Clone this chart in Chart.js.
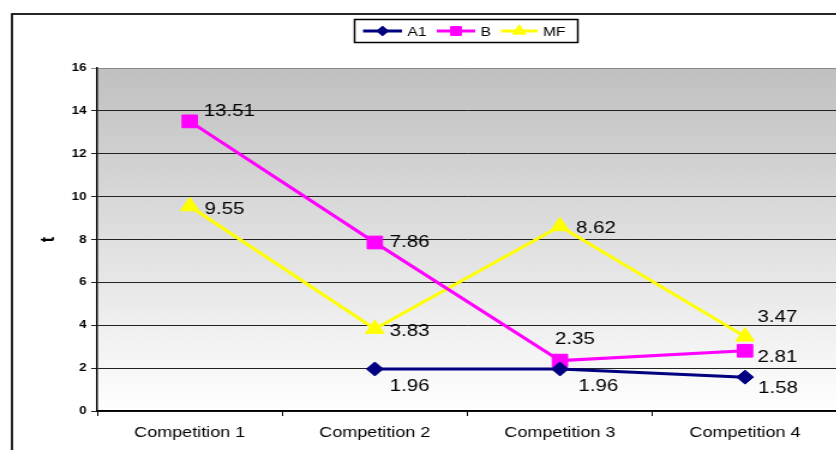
<!DOCTYPE html>
<html>
<head>
<meta charset="utf-8">
<script src="https://cdn.jsdelivr.net/npm/chart.js@4/dist/chart.umd.min.js"></script>
<style>
  html, body { margin: 0; padding: 0; background: #fff; overflow: hidden; }
  /* the chart is drawn on a narrower canvas and widened horizontally */
  #wrap { width: 698px; height: 450px; transform: scaleX(1.2); transform-origin: 0 0; }
  canvas { display: block; }
</style>
</head>
<body>
<div id="wrap"><canvas id="c" width="698" height="450"></canvas></div>
<script>
// ---- data ----
const categories = ['Competition 1', 'Competition 2', 'Competition 3', 'Competition 4'];
const seriesA1 = [null, 1.96, 1.96, 1.58];
const seriesB  = [13.51, 7.86, 2.35, 2.81];
const seriesMF = [9.55, 3.83, 8.62, 3.47];
const yMin = 0, yMax = 16, yStep = 2;
const yTitle = 't';

// ---- value label placement (offset from the point, canvas px) ----
const labelShiftA1 = [null, [29, 17], [32, 17], [27.5, 11]];
const labelShiftB  = [[33, -10], [29, 0], [12.5, -21], [27, 7]];
const labelShiftMF = [[29, 3], [29, 2], [30, 2], [27, -19]];

const FONT = "'Liberation Sans', Arial, Helvetica, sans-serif";

const frameAndBackground = {
  id: 'frameAndBackground',
  beforeDraw(chart) {
    const { ctx, chartArea: a } = chart;
    ctx.save();
    // outer frame
    ctx.strokeStyle = '#000';
    ctx.lineWidth = 1.7;
    ctx.strokeRect(10, 14, 900, 600);
    // plot area gradient
    const g = ctx.createLinearGradient(0, a.top, 0, a.bottom);
    g.addColorStop(0, '#c0c0c0');
    g.addColorStop(1, '#ffffff');
    ctx.fillStyle = g;
    ctx.fillRect(a.left, a.top, a.right - a.left, a.bottom - a.top);
    ctx.restore();
  }
};

const valueLabels = {
  id: 'valueLabels',
  afterDatasetsDraw(chart) {
    const ctx = chart.ctx;
    ctx.save();
    ctx.font = '17px ' + FONT;
    ctx.fillStyle = '#000';
    ctx.textAlign = 'center';
    ctx.textBaseline = 'middle';
    chart.data.datasets.forEach((ds, di) => {
      const meta = chart.getDatasetMeta(di);
      ds.data.forEach((v, i) => {
        if (v === null) return;
        const el = meta.data[i];
        const s = ds.labelShift[i];
        ctx.fillText(v.toFixed(2), el.x + s[0], el.y + s[1]);
      });
    });
    ctx.restore();
  }
};

const boxedLegend = {
  id: 'boxedLegend',
  afterDraw(chart) {
    const ctx = chart.ctx;
    ctx.save();
    ctx.strokeStyle = '#000';
    ctx.lineWidth = 1.5;
    ctx.strokeRect(295.5, 19.5, 186, 23);
    const slots = [[302.5, 335, 339.5], [364, 396, 400.5], [417.5, 448, 452.5]];
    const y = 31;
    chart.data.datasets.forEach((ds, i) => {
      const [x0, x1, tx] = slots[i];
      ctx.strokeStyle = ds.borderColor;
      ctx.lineWidth = 3;
      ctx.beginPath();
      ctx.moveTo(x0, y);
      ctx.lineTo(x1, y);
      ctx.stroke();
      ctx.fillStyle = ds.borderColor;
      ctx.lineWidth = 1;
      Chart.helpers.drawPoint(ctx, { pointStyle: ds.pointStyle, radius: ds.pointRadius * 0.7, borderWidth: 1, rotation: 0 }, (x0 + x1) / 2, y);
      ctx.fillStyle = '#000';
      ctx.font = '13px ' + FONT;
      ctx.textAlign = 'left';
      ctx.textBaseline = 'middle';
      ctx.fillText(ds.label, tx, y + 1);
    });
    ctx.restore();
  }
};

function lineSeries(label, data, color, style, radius, shift) {
  return {
    label, data,
    borderColor: color, backgroundColor: color,
    borderWidth: 3,
    pointStyle: style, pointRadius: radius, pointHoverRadius: radius,
    pointBackgroundColor: color, pointBorderColor: color, pointBorderWidth: 1,
    tension: 0, fill: false, clip: false,
    labelShift: shift
  };
}

new Chart(document.getElementById('c'), {
  type: 'line',
  data: {
    labels: categories,
    datasets: [
      lineSeries('A1', seriesA1, '#000080', 'rectRot', 7, labelShiftA1),
      lineSeries('B', seriesB, '#ff00ff', 'rect', 9, labelShiftB),
      lineSeries('MF', seriesMF, '#ffff00', 'triangle', 9, labelShiftMF)
    ]
  },
  options: {
    responsive: false,
    animation: false,
    events: [],
    layout: { autoPadding: false, padding: { top: 68, left: 0, right: 0, bottom: 0 } },
    plugins: { legend: { display: false }, tooltip: { enabled: false } },
    scales: {
      x: {
        offset: true,
        afterFit(s) { s.height = 39; s.paddingLeft = 0; s.paddingRight = 0; },
        grid: { drawOnChartArea: false, drawTicks: true, tickLength: 5, color: '#000', offset: true },
        border: { display: true, color: '#000', width: 1.5 },
        ticks: { color: '#000', padding: 8, font: { family: FONT, size: 15 } }
      },
      y: {
        min: yMin, max: yMax,
        afterFit(s) { s.width = 81; },
        ticks: { stepSize: yStep, color: '#000', padding: 4, font: { family: FONT, size: 11, weight: 'bold' } },
        grid: {
          color: (c) => c.tick && c.tick.value === yMax ? '#888' : '#222',
          lineWidth: 1, tickLength: 5, drawTicks: true
        },
        border: { display: true, color: '#000', width: 1.5 },
        title: { display: true, text: yTitle, color: '#000', padding: { top: 30.5, bottom: 0 }, font: { family: FONT, size: 16, weight: 'bold' } }
      }
    }
  },
  plugins: [frameAndBackground, valueLabels, boxedLegend]
});
</script>
</body>
</html>
